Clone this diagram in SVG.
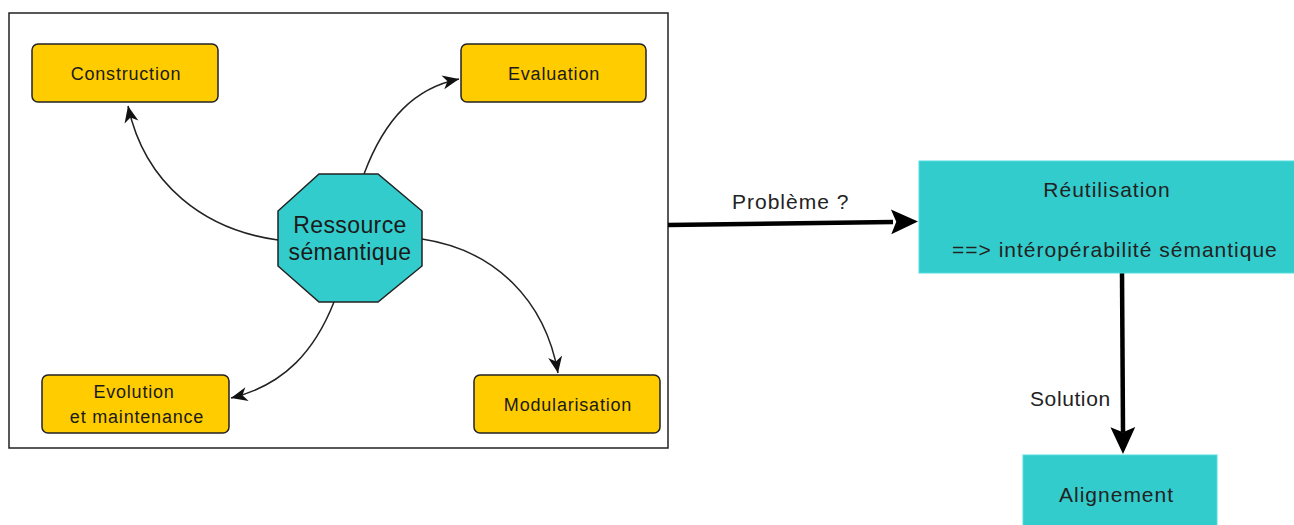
<svg xmlns="http://www.w3.org/2000/svg" width="1294" height="525" viewBox="0 0 1294 525">
<defs>
<style>
.box{fill:#FFCC00;stroke:#222;stroke-width:1.5}
.cyan{fill:#33CCCC;stroke:#55DDDD;stroke-width:1}
.oct{fill:#33CCCC;stroke:#222;stroke-width:1.5}
.lbl{font-family:"Liberation Sans",Arial,sans-serif;font-size:18px;letter-spacing:0.8px;fill:#1a1a1a;text-anchor:middle}
.big{font-family:"Liberation Sans",Arial,sans-serif;font-size:23px;letter-spacing:0.4px;fill:#1a1a1a;text-anchor:middle}
.rt{font-family:"Liberation Sans",Arial,sans-serif;font-size:21px;letter-spacing:1px;fill:#222}
.thin{fill:none;stroke:#222;stroke-width:1.5}
.thick{fill:none;stroke:#000;stroke-width:4.5}
</style>
<marker id="ah" markerUnits="userSpaceOnUse" markerWidth="20" markerHeight="20" viewBox="-15 -8 17 16" refX="0" refY="0" orient="auto">
<path d="M0,0 L-14,-6 L-10,0 L-14,6 Z" fill="#111"/>
</marker>
<marker id="ahb" markerUnits="userSpaceOnUse" markerWidth="30" markerHeight="30" viewBox="-27 -13 29 26" refX="0" refY="0" orient="auto">
<path d="M0,0 L-26,-12 L-21,0 L-26,12 Z" fill="#000"/>
</marker>
</defs>
<rect x="9" y="13" width="659" height="435" fill="#fff" stroke="#222" stroke-width="1.5"/>
<g id="connectors">
<path class="thin" d="M278,240 C205,230 145,185 128,106" marker-end="url(#ah)"/>
<path class="thin" d="M364,174 C385,118 415,88 459,79" marker-end="url(#ah)"/>
<path class="thin" d="M422,239 C495,250 545,300 558,373" marker-end="url(#ah)"/>
<path class="thin" d="M334,302 C315,350 285,385 231,398" marker-end="url(#ah)"/>
<path class="thick" d="M668,225 L893,222" />
<path d="M668,225 L918,221.5" fill="none" stroke="none" marker-end="url(#ahb)"/>
<path class="thick" d="M1122,273 L1123,432"/>
<path d="M1122,273 L1123,454" fill="none" stroke="none" marker-end="url(#ahb)"/>
<text class="rt" x="732" y="209">Problème ?</text>
<text class="rt" x="1030" y="406" style="letter-spacing:0.6px">Solution</text>
</g>
<g id="construction">
<rect class="box" x="32" y="44" width="186" height="58" rx="6"/>
<text class="lbl" x="126" y="80">Construction</text>
</g>
<g id="evaluation">
<rect class="box" x="461" y="44" width="185" height="58" rx="6"/>
<text class="lbl" x="554" y="80">Evaluation</text>
</g>
<g id="evolution">
<rect class="box" x="42" y="375" width="187" height="58" rx="6"/>
<text class="lbl" x="134" y="398">Evolution</text>
<text class="lbl" x="137" y="423">et maintenance</text>
</g>
<g id="modularisation">
<rect class="box" x="474" y="375" width="186" height="58" rx="6"/>
<text class="lbl" x="568" y="411">Modularisation</text>
</g>
<g id="ressource">
<polygon class="oct" points="319,174 378,174 422,211 422,266 378,302 319,302 278,266 278,211"/>
<text class="big" x="350" y="233">Ressource</text>
<text class="big" x="350" y="260">sémantique</text>
</g>
<g id="reutilisation">
<rect class="cyan" x="919" y="161" width="380" height="112"/>
<text class="rt" x="1107" y="197" text-anchor="middle">Réutilisation</text>
<text class="rt" x="952" y="257">==&gt; intéropérabilité sémantique</text>
</g>
<g id="alignement">
<rect class="cyan" x="1023" y="455" width="194" height="80"/>
<text class="rt" x="1059" y="502">Alignement</text>
</g>
</svg>
